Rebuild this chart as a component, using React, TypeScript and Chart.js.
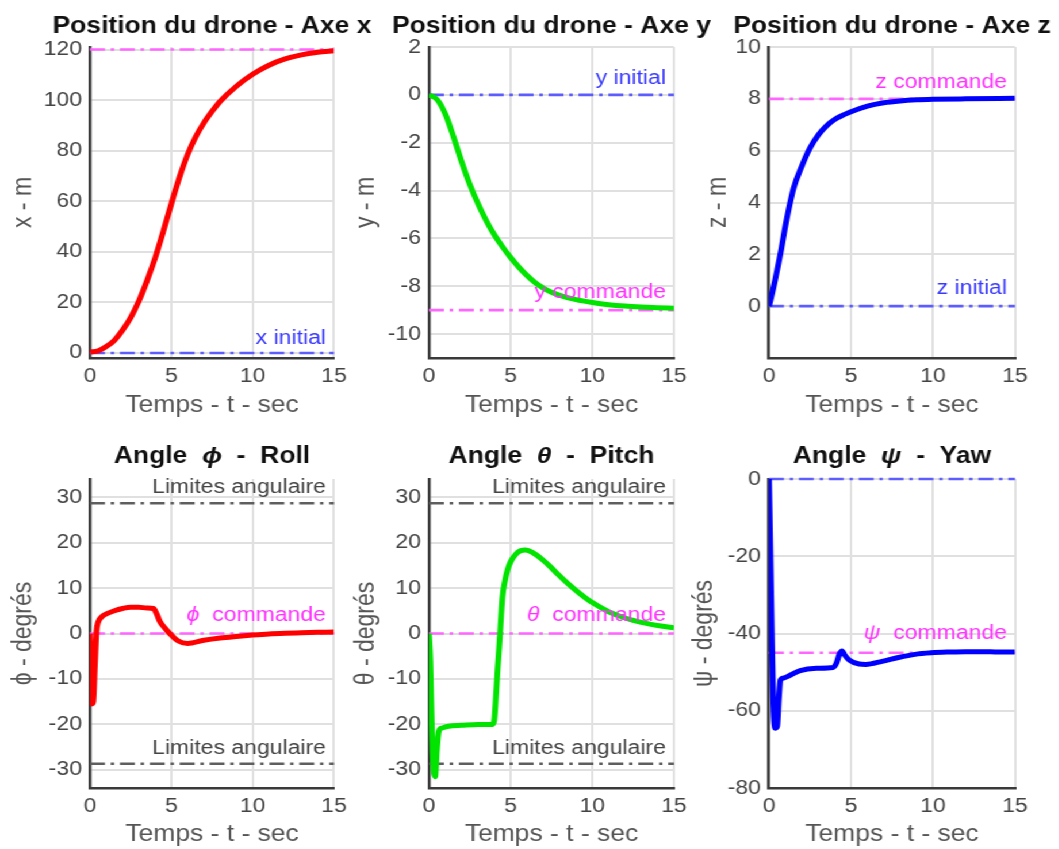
import React, { useEffect, useRef } from "react";
import { Chart, registerables } from "chart.js";

Chart.register(...registerables);

// ---------------- data ----------------
const timeTicks = [0, 5, 10, 15];

const posTime = [0, 0.5, 1, 1.5, 2, 2.5, 3, 3.5, 4, 4.5, 5, 5.5, 6, 6.5, 7, 7.5, 8, 9, 10, 11, 12, 13, 14, 15];
const posX = [0.4, 0.8, 2.5, 5, 9, 14, 20.5, 28.5, 37.5, 48, 59, 69.5, 78.5, 85.5, 91, 95.5, 99.5, 105.5, 110.2, 113.8, 116.3, 117.9, 118.9, 119.5];
const posY = [0, -0.2, -0.8, -1.75, -2.8, -3.75, -4.55, -5.25, -5.85, -6.35, -6.8, -7.2, -7.55, -7.85, -8.08, -8.25, -8.38, -8.56, -8.68, -8.77, -8.83, -8.87, -8.9, -8.92];

const zTime = [0, 0.25, 0.5, 0.75, 1, 1.5, 2, 2.5, 3, 3.5, 4, 5, 6, 7, 8, 9, 10, 12, 15];
const posZ = [0, 0.65, 1.4, 2.2, 3.1, 4.55, 5.4, 6.1, 6.6, 6.95, 7.2, 7.5, 7.72, 7.85, 7.92, 7.96, 7.98, 8.0, 8.02];

const phiTime = [0, 0.05, 0.12, 0.2, 0.3, 0.4, 0.5, 0.7, 1, 1.5, 2, 2.5, 3, 3.5, 3.9, 4.1, 4.3, 4.6, 4.9, 5.4, 6, 7, 8, 9, 10, 11, 12, 13, 14, 15];
const phiDeg = [0, -8, -15.5, -15, -7, 0.5, 2.5, 3.6, 4.3, 5.0, 5.5, 5.8, 5.8, 5.6, 5.5, 4.3, 2.6, 1.2, 0, -1.6, -2.2, -1.5, -1.0, -0.65, -0.35, -0.1, 0.05, 0.15, 0.25, 0.35];

const thetaTime = [0, 0.08, 0.15, 0.22, 0.3, 0.38, 0.48, 0.6, 0.8, 1.2, 2, 3, 3.9, 4.0, 4.1, 4.2, 4.3, 4.5, 4.65, 4.8, 5.0, 5.3, 5.6, 5.9, 6.4, 6.9, 7.4, 7.9, 8.5, 9.2, 10, 11, 12.1, 13, 14.2, 15];
const thetaDeg = [0, -6, -17, -26, -30.5, -31.5, -26, -21.5, -20.8, -20.4, -20.2, -20.0, -20.0, -19, -13.9, -8, -2.9, 8.1, 11.5, 13.9, 15.8, 17.4, 18.2, 18.4, 17.7, 16.4, 14.8, 13.0, 11.0, 8.9, 6.8, 4.8, 3.3, 2.45, 1.65, 1.25];

const psiTime = [0, 0.1, 0.2, 0.3, 0.4, 0.5, 0.6, 0.7, 0.9, 1.2, 1.9, 2.9, 3.9, 4.1, 4.3, 4.45, 4.6, 4.9, 5.5, 5.9, 6.9, 7.9, 8.9, 9.9, 11, 12, 13, 14, 15];
const psiDeg = [0, -23, -46, -62, -64.5, -64, -57, -52, -51.5, -51, -49.6, -49.0, -48.8, -47.8, -45.3, -44.5, -45.5, -46.9, -47.9, -48.0, -47.2, -46.2, -45.4, -45.0, -44.8, -44.7, -44.7, -44.8, -44.8];

const xTicksM = [0, 20, 40, 60, 80, 100, 120];
const yTicksM = [-10, -8, -6, -4, -2, 0, 2];
const zTicksM = [0, 2, 4, 6, 8, 10];
const angleTicks = [-30, -20, -10, 0, 10, 20, 30];
const psiTicks = [-80, -60, -40, -20, 0];

const xInitial = 0, xCommande = 120;
const yInitial = 0, yCommande = -9;
const zInitial = 0, zCommande = 8;
const angleLimit = 28.65;
const phiCommande = 0, thetaCommande = 0;
const psiInitial = 0, psiCommande = -45;

// ---------------- style ----------------
const S = 1.15; // horizontal stretch of the whole figure
const FONT = "'Liberation Sans', Arial, Helvetica, sans-serif";
const MID = 0.33;
const TICK_SIZE = 20;
const AX_SIZE = 23;
const TITLE_SIZE = 23;
const NOTE_SIZE = 20;

const RED = "#ff0000";
const GREEN = "#00e400";
const BLUE = "#0000ff";
const MAG_LINE = "#ff66ff";
const BLUE_LINE = "#5c5cff";
const GRAY_LINE = "#5e5e5e";
const MAG_TXT = "#ff33ff";
const BLUE_TXT = "#3a3aff";
const GRAY_TXT = "#444444";

type Seg = { t: string; it?: boolean };
type Note = { segs: Seg[]; y: number; color: string; dy: number };
type RefLine = { y: number; color: string };
type Spec = {
  title: Seg[];
  yTitle: string;
  L: number; R: number; T: number; B: number;
  rowTop: number; titleBase: number; xBase: number; yBase: number;
  time: number[]; values: number[]; color: string;
  yMin: number; yMax: number; yTicks: number[];
  refs: RefLine[]; notes: Note[];
};

const ROW1 = { T: 47, B: 358, rowTop: 0, titleBase: 33, xBase: 413 };
const ROW2 = { T: 479, B: 788, rowTop: 430, titleBase: 463, xBase: 842 };
const COL1 = { L: 90, R: 334 };
const COL2 = { L: 429, R: 674 };
const COL3 = { L: 769, R: 1015 };

const specs: Spec[] = [
  {
    ...ROW1, ...COL1, yBase: 33,
    title: [{ t: "Position du drone - Axe x" }], yTitle: "x - m",
    time: posTime, values: posX, color: RED, yMin: -2, yMax: 121, yTicks: xTicksM,
    refs: [{ y: xCommande, color: MAG_LINE }, { y: xInitial, color: BLUE_LINE }],
    notes: [{ segs: [{ t: "x initial" }], y: xInitial, color: BLUE_TXT, dy: 9 }],
  },
  {
    ...ROW1, ...COL2, yBase: 375,
    title: [{ t: "Position du drone - Axe y" }], yTitle: "y - m",
    time: posTime, values: posY, color: GREEN, yMin: -11, yMax: 2, yTicks: yTicksM,
    refs: [{ y: yInitial, color: BLUE_LINE }, { y: yCommande, color: MAG_LINE }],
    notes: [
      { segs: [{ t: "y initial" }], y: yInitial, color: BLUE_TXT, dy: 11 },
      { segs: [{ t: "y commande" }], y: yCommande, color: MAG_TXT, dy: 12 },
    ],
  },
  {
    ...ROW1, ...COL3, yBase: 727,
    title: [{ t: "Position du drone - Axe z" }], yTitle: "z - m",
    time: zTime, values: posZ, color: BLUE, yMin: -2, yMax: 10, yTicks: zTicksM,
    refs: [{ y: zCommande, color: MAG_LINE }, { y: zInitial, color: BLUE_LINE }],
    notes: [
      { segs: [{ t: "z commande" }], y: zCommande, color: MAG_TXT, dy: 11 },
      { segs: [{ t: "z initial" }], y: zInitial, color: BLUE_TXT, dy: 12 },
    ],
  },
  {
    ...ROW2, ...COL1, yBase: 33,
    title: [{ t: "Angle  " }, { t: "ϕ", it: true }, { t: "  -  Roll" }], yTitle: "ϕ - degrés",
    time: phiTime, values: phiDeg, color: RED, yMin: -34, yMax: 34, yTicks: angleTicks,
    refs: [{ y: angleLimit, color: GRAY_LINE }, { y: -angleLimit, color: GRAY_LINE }, { y: phiCommande, color: MAG_LINE }],
    notes: [
      { segs: [{ t: "Limites angulaire" }], y: angleLimit, color: GRAY_TXT, dy: 10 },
      { segs: [{ t: "Limites angulaire" }], y: -angleLimit, color: GRAY_TXT, dy: 10 },
      { segs: [{ t: "ϕ", it: true }, { t: "  commande" }], y: phiCommande, color: MAG_TXT, dy: 13 },
    ],
  },
  {
    ...ROW2, ...COL2, yBase: 375,
    title: [{ t: "Angle  " }, { t: "θ", it: true }, { t: "  -  Pitch" }], yTitle: "θ - degrés",
    time: thetaTime, values: thetaDeg, color: GREEN, yMin: -34, yMax: 34, yTicks: angleTicks,
    refs: [{ y: angleLimit, color: GRAY_LINE }, { y: -angleLimit, color: GRAY_LINE }, { y: thetaCommande, color: MAG_LINE }],
    notes: [
      { segs: [{ t: "Limites angulaire" }], y: angleLimit, color: GRAY_TXT, dy: 10 },
      { segs: [{ t: "Limites angulaire" }], y: -angleLimit, color: GRAY_TXT, dy: 10 },
      { segs: [{ t: "θ", it: true }, { t: "  commande" }], y: thetaCommande, color: MAG_TXT, dy: 13 },
    ],
  },
  {
    ...ROW2, ...COL3, yBase: 713,
    title: [{ t: "Angle  " }, { t: "ψ", it: true }, { t: "  -  Yaw" }], yTitle: "ψ - degrés",
    time: psiTime, values: psiDeg, color: BLUE, yMin: -80, yMax: 0, yTicks: psiTicks,
    refs: [{ y: psiInitial, color: BLUE_LINE }, { y: psiCommande, color: MAG_LINE }],
    notes: [{ segs: [{ t: "ψ", it: true }, { t: "  commande" }], y: psiCommande, color: MAG_TXT, dy: 14 }],
  },
];

type Geo = { cl: number; ct: number; cw: number; ch: number; yw: number; xh: number; padTop: number; padRight: number };

function geometry(s: Spec): Geo {
  const yMid = s.yBase / S - MID * AX_SIZE;
  const cl = Math.round(yMid - (AX_SIZE * 1.2) / 2);
  const cr = Math.min(s.R / S + 40, 1059 / S);
  const cw = Math.round(cr - cl);
  const ct = s.rowTop;
  const axisBottom = s.xBase - MID * AX_SIZE + (AX_SIZE * 1.2) / 2;
  const ch = Math.round(axisBottom - ct);
  return {
    cl, ct, cw, ch,
    yw: s.L / S - cl,
    xh: ct + ch - s.B,
    padTop: s.T - ct,
    padRight: cl + cw - s.R / S,
  };
}

function drawSegs(ctx: CanvasRenderingContext2D, segs: Seg[], x: number, y: number, size: number, weight: string, color: string, align: "right" | "center") {
  const fonts = segs.map((sg) => `${sg.it ? "italic " : ""}${weight} ${size}px ${FONT}`);
  const widths = segs.map((sg, i) => {
    ctx.font = fonts[i];
    return ctx.measureText(sg.t).width;
  });
  const total = widths.reduce((a, b) => a + b, 0);
  let cx = align === "right" ? x - total : x - total / 2;
  ctx.save();
  ctx.fillStyle = color;
  ctx.textAlign = "left";
  ctx.textBaseline = "alphabetic";
  segs.forEach((sg, i) => {
    ctx.font = fonts[i];
    ctx.fillText(sg.t, cx, y);
    cx += widths[i];
  });
  ctx.restore();
}

function makeDecor(spec: Spec, g: Geo) {
  return {
    id: "decor",
    afterDatasetsDraw(chart: any) {
      const ctx = chart.ctx as CanvasRenderingContext2D;
      const area = chart.chartArea;
      const yScale = chart.scales.y;
      spec.notes.forEach((n) => {
        const py = yScale.getPixelForValue(n.y) - n.dy;
        drawSegs(ctx, n.segs, area.right - 8 / S, py, NOTE_SIZE, "normal", n.color, "right");
      });
    },
    afterDraw(chart: any) {
      const ctx = chart.ctx as CanvasRenderingContext2D;
      const area = chart.chartArea;
      drawSegs(ctx, spec.title, (area.left + area.right) / 2, spec.titleBase - g.ct, TITLE_SIZE, "bold", "#111111", "center");
    },
  };
}

function buildConfig(spec: Spec, g: Geo): any {
  const dashDot = [13, 5, 3, 5];
  const t0 = timeTicks[0];
  const t1 = timeTicks[timeTicks.length - 1];
  const datasets: any[] = [
    {
      data: spec.time.map((t, i) => ({ x: t, y: spec.values[i] })),
      borderColor: spec.color,
      borderWidth: 5,
      pointRadius: 0,
      cubicInterpolationMode: "monotone",
      fill: false,
    },
    ...spec.refs.map((r) => ({
      data: [{ x: t0, y: r.y }, { x: t1, y: r.y }],
      borderColor: r.color,
      borderWidth: 2.6,
      borderDash: dashDot,
      pointRadius: 0,
      tension: 0,
      fill: false,
      clip: 6,
    })),
  ];
  const grid = { color: "#e0e0e0", lineWidth: 2, drawTicks: false };
  const border = { display: true, color: "#3a3a3a", width: 2.5 };
  return {
    type: "line",
    data: { datasets },
    options: {
      animation: false,
      responsive: false,
      events: [],
      locale: "en-US",
      layout: { autoPadding: false, padding: { left: 0, top: g.padTop, right: g.padRight, bottom: 0 } },
      plugins: { legend: { display: false }, tooltip: { enabled: false }, title: { display: false } },
      scales: {
        x: {
          type: "linear",
          min: t0,
          max: t1,
          afterBuildTicks: (a: any) => { a.ticks = timeTicks.map((v) => ({ value: v })); },
          afterFit: (sc: any) => { sc.height = g.xh; },
          grid,
          border,
          ticks: { font: { family: FONT, size: TICK_SIZE }, color: "#444444", padding: 6, maxRotation: 0, autoSkip: false },
          title: { display: true, text: "Temps - t - sec", font: { family: FONT, size: AX_SIZE }, color: "#555555", padding: 0 },
        },
        y: {
          type: "linear",
          min: spec.yMin,
          max: spec.yMax,
          afterBuildTicks: (a: any) => { a.ticks = spec.yTicks.map((v) => ({ value: v })); },
          afterFit: (sc: any) => { sc.width = g.yw; },
          grid,
          border,
          ticks: { font: { family: FONT, size: TICK_SIZE }, color: "#444444", padding: 7, autoSkip: false },
          title: { display: true, text: spec.yTitle, font: { family: FONT, size: AX_SIZE }, color: "#555555", padding: 0 },
        },
      },
    },
    plugins: [makeDecor(spec, g)],
  };
}

function Panel({ spec }: { spec: Spec }) {
  const ref = useRef<HTMLCanvasElement>(null);
  const g = geometry(spec);
  useEffect(() => {
    if (!ref.current) return;
    const chart = new Chart(ref.current, buildConfig(spec, g));
    return () => chart.destroy();
  }, []);
  return (
    <canvas
      ref={ref}
      width={g.cw}
      height={g.ch}
      style={{ position: "absolute", left: g.cl, top: g.ct, width: g.cw, height: g.ch }}
    />
  );
}

export default function App() {
  return (
    <div
      style={{
        position: "absolute",
        left: 0,
        top: 0,
        width: 1059 / S,
        height: 849,
        transform: `scaleX(${S})`,
        transformOrigin: "0 0",
        background: "#ffffff",
        overflow: "hidden",
      }}
    >
      {specs.map((s, i) => (
        <Panel key={i} spec={s} />
      ))}
    </div>
  );
}
